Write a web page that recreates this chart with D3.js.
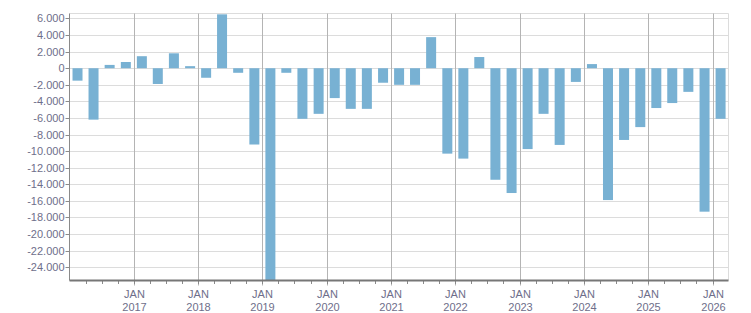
<!DOCTYPE html>
<html>
<head>
<meta charset="utf-8">
<script src="https://cdn.jsdelivr.net/npm/d3@7"></script>
<style>
  body { margin: 0; background: #fff; }
  svg text { font-family: "Liberation Sans", Arial, sans-serif; font-size: 11px; fill: #6e6e8a; }
</style>
</head>
<body>
<script>
// quarterly values, Q1 2016 .. Q1 2026
var quarters = [];
for (var yr = 2016; yr <= 2026; yr++) {
  for (var q = 0; q < 4; q++) {
    if (yr == 2026 && q > 0) break;
    quarters.push(new Date(yr, q * 3, 1));
  }
}
var values = [
  -1500, -6200, 400, 750,
  1450, -1900, 1800, 250,
  -1150, 6500, -550, -9200,
  -27500, -550, -6100, -5500,
  -3600, -4900, -4900, -1750,
  -2000, -2000, 3750, -10300,
  -10900, 1350, -13450, -15050,
  -9750, -5500, -9250, -1650,
  500, -15900, -8650, -7100,
  -4800, -4200, -2850, -17300,
  -6100
];
var yTicks = [6000, 4000, 2000, 0, -2000, -4000, -6000, -8000, -10000, -12000,
  -14000, -16000, -18000, -20000, -22000, -24000];
var janYears = [2017, 2018, 2019, 2020, 2021, 2022, 2023, 2024, 2025, 2026];

var width = 751, height = 313;
var pLeft = 69.5, pRight = 728.5, pTop = 13.5, pBottom = 280.5;

var de = d3.formatLocale({ decimal: ",", thousands: ".", grouping: [3], currency: ["", "€"], minus: "-" });
var fmt = de.format(",d");

var x = d3.scaleTime()
  .domain([new Date(2016, 0, 1), new Date(2026, 3, 1)])
  .range([pLeft, pRight]);
var y = d3.scaleLinear()
  .domain([-25600, 6600])
  .range([pBottom, pTop]);

var svg = d3.select("body").append("svg")
  .attr("width", width)
  .attr("height", height);

svg.append("defs").append("clipPath").attr("id", "plot")
  .append("rect").attr("x", pLeft).attr("y", pTop).attr("width", pRight - pLeft).attr("height", pBottom - pTop);

// horizontal grid
svg.append("g").selectAll("line").data(yTicks).enter().append("line")
  .attr("x1", pLeft).attr("x2", pRight)
  .attr("y1", function(d) { return Math.round(y(d)) + 0.5; })
  .attr("y2", function(d) { return Math.round(y(d)) + 0.5; })
  .attr("stroke", "#dcdcdc");
// top + right border
svg.append("line").attr("x1", pLeft).attr("x2", pRight).attr("y1", pTop).attr("y2", pTop).attr("stroke", "#dcdcdc");
svg.append("line").attr("x1", pRight).attr("x2", pRight).attr("y1", pTop).attr("y2", pBottom).attr("stroke", "#dcdcdc");

// vertical grid on january
svg.append("g").selectAll("line").data(janYears).enter().append("line")
  .attr("x1", function(d) { return Math.round(x(new Date(d, 0, 1))) + 0.5; })
  .attr("x2", function(d) { return Math.round(x(new Date(d, 0, 1))) + 0.5; })
  .attr("y1", pTop).attr("y2", pBottom + 5)
  .attr("stroke", "#b4b4b4");

// bars
svg.append("g").attr("clip-path", "url(#plot)")
  .selectAll("rect").data(values).enter().append("rect")
  .attr("x", function(d, i) {
    var s = quarters[i], e = d3.timeMonth.offset(s, 3);
    return (x(s) + x(e)) / 2 - 5;
  })
  .attr("width", 10)
  .attr("y", function(d) { return y(Math.max(0, d)); })
  .attr("height", function(d) { return Math.abs(y(d) - y(0)); })
  .attr("fill", "#78b1d3");

// quarter ticks
svg.append("g").selectAll("line").data(quarters.slice(1)).enter().append("line")
  .attr("x1", function(d) { return Math.round(x(d)) + 0.5; })
  .attr("x2", function(d) { return Math.round(x(d)) + 0.5; })
  .attr("y1", pBottom).attr("y2", pBottom + 3.5)
  .attr("stroke", "#8a8a8a");

// axis lines
svg.append("line").attr("x1", pLeft).attr("x2", pLeft).attr("y1", pTop).attr("y2", pBottom).attr("stroke", "#8a8a8a");
svg.append("line").attr("x1", pLeft).attr("x2", pRight).attr("y1", pBottom).attr("y2", pBottom)
  .attr("stroke", "#777").attr("stroke-width", 2);

// y ticks and labels
var yl = svg.append("g").selectAll("g").data(yTicks).enter().append("g")
  .attr("transform", function(d) { return "translate(0," + (Math.round(y(d)) + 0.5) + ")"; });
yl.append("line").attr("x1", pLeft - 4).attr("x2", pLeft).attr("stroke", "#8a8a8a");
yl.append("text").attr("x", pLeft - 5).attr("dy", "0.35em")
  .style("text-anchor", "end").text(function(d) { return fmt(d); });

// x labels
var xl = svg.append("g").selectAll("g").data(janYears).enter().append("g")
  .attr("transform", function(d) { return "translate(" + (Math.round(x(new Date(d, 0, 1))) + 0.5) + ",0)"; });
xl.append("text").attr("y", 298).style("text-anchor", "middle").text("JAN");
xl.append("text").attr("y", 311).style("text-anchor", "middle").text(function(d) { return d; });
</script>
</body>
</html>
